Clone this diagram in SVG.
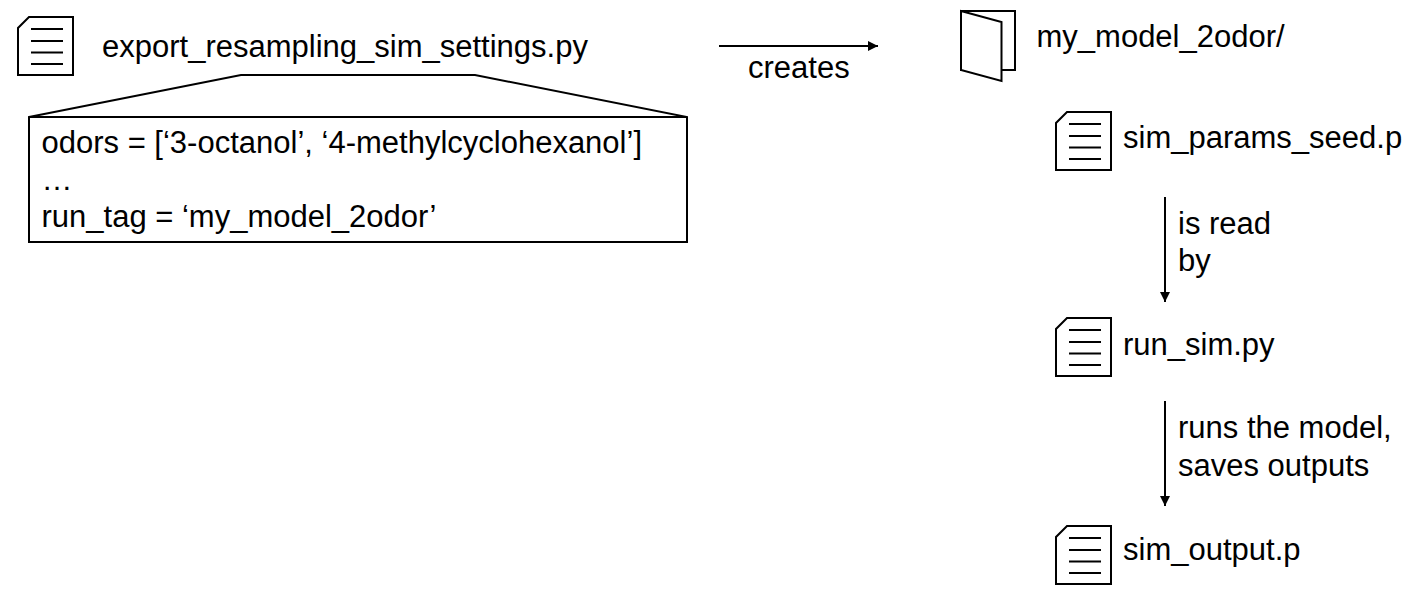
<svg xmlns="http://www.w3.org/2000/svg" width="1414" height="599" viewBox="0 0 1414 599">
<style>
text{font-family:"Liberation Sans",Arial,sans-serif;font-size:31px;fill:#000}
.s{fill:#fff;stroke:#000;stroke-width:2;stroke-linejoin:miter}
.l{fill:none;stroke:#000;stroke-width:2}
</style>
<defs>
<marker id="a" markerWidth="11" markerHeight="11" refX="10" refY="5" orient="auto" markerUnits="userSpaceOnUse"><path d="M0 0L10 5L0 10z" fill="#000"/></marker>
<g id="doc"><path class="s" d="M11 0H55V58H0V11z"/><path class="l" d="M13 12H45M13 24H45M13 35.500H45M13 47H45"/></g>
</defs>
<rect width="1414" height="599" fill="#fff"/>
<g id="connectors">
<path class="l" d="M719 46H878" marker-end="url(#a)"/>
<path class="l" d="M1165 197V302" marker-end="url(#a)"/>
<path class="l" d="M1165 401V506" marker-end="url(#a)"/>
</g>
<g id="settings"><use href="#doc" x="18" y="17"/><text x="102" y="57">export_resampling_sim_settings.py</text></g>
<g id="callout"><path class="s" d="M29 117L241 75H475L687 117V242H29z"/><path class="l" d="M29 117H687"/>
<text x="41.500" y="153">odors = [‘3-octanol’, ‘4-methylcyclohexanol’]</text><text x="41.500" y="190">…</text><text x="41.500" y="227">run_tag = ‘my_model_2odor’</text></g>
<g id="folder"><path class="s" d="M961 11H1015V70H961z"/><path class="s" d="M961 11L1001.500 22V81L961 70z"/><text x="1036.500" y="47">my_model_2odor/</text></g>
<g id="seed"><use href="#doc" x="1056" y="112"/><text x="1123" y="148">sim_params_seed.p</text></g>
<g id="runsim"><use href="#doc" x="1056" y="318"/><text x="1123" y="355">run_sim.py</text></g>
<g id="output"><use href="#doc" x="1056" y="526"/><text x="1123" y="560">sim_output.p</text></g>
<g id="labels"><text x="748" y="78">creates</text><text x="1178" y="234">is read</text><text x="1178" y="271">by</text><text x="1178" y="438">runs the model,</text><text x="1178" y="476">saves outputs</text></g>
</svg>
